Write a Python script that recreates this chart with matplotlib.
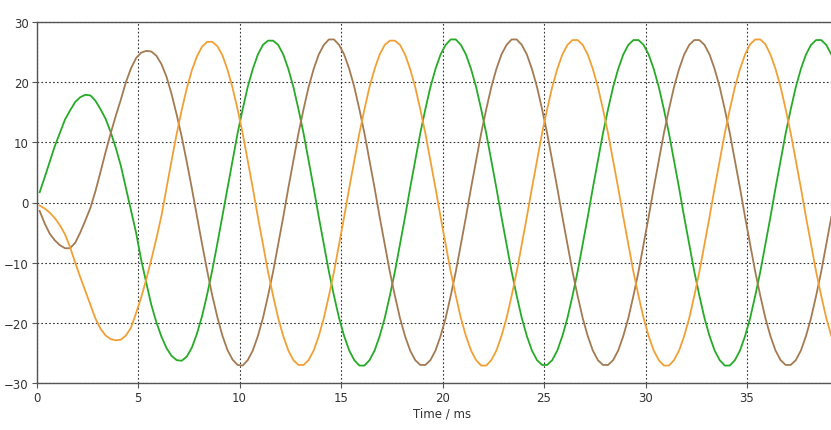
import numpy as np
import matplotlib
matplotlib.use('Agg')
import matplotlib.pyplot as plt

# sample times (ms), one reading every 0.25 ms
time_ms = 0.155 + 0.25 * np.arange(157)

# values, one per sample time
green = ([1.7, 4.2, 6.8, 9.4, 11.6, 13.8, 15.3, 16.7, 17.5, 17.9, 17.8, 16.9, 15.5,
          13.9, 11.7, 9.1, 6.1, 2.4, -1.3, -5.0, -9.5, -13.3, -17.0, -19.9, -22.3,
          -24.2, -25.5, -26.2, -26.3, -25.6, -24.1, -21.8, -18.9, -15.3, -11.3, -6.9, -2.3]
         + [2.4, 7.0, 11.5, 15.5, 19.2, 22.2, 24.6, 26.2, 26.9]
         + [26.9, 26.2, 24.6, 22.2, 19.2, 15.5, 11.5, 7.0, 2.4, -2.4, -7.0, -11.5,
            -15.5, -19.2, -22.2, -24.6, -26.2, -27.1, -27.1, -26.2, -24.6, -22.2, -19.2,
            -15.5, -11.5, -7.0, -2.4, 2.4, 7.0, 11.5, 15.5, 19.2, 22.2, 24.6, 26.2, 27.1]
         + [27.1, 26.2, 24.6, 22.2, 19.2, 15.5, 11.5, 7.0, 2.4, -2.4, -7.0, -11.5,
            -15.5, -19.2, -22.2, -24.6, -26.2, -27.0, -27.0, -26.2, -24.6, -22.2, -19.2,
            -15.5, -11.5, -7.0, -2.4, 2.4, 7.0, 11.5, 15.5, 19.2, 22.2, 24.6, 26.2, 27.0]
         + [27.0, 26.2, 24.6, 22.2, 19.2, 15.5, 11.5, 7.0, 2.4, -2.4, -7.0, -11.5,
            -15.5, -19.2, -22.2, -24.6, -26.2, -27.1, -27.1, -26.2, -24.6, -22.2, -19.2,
            -15.5, -11.5, -7.0, -2.4, 2.4, 7.0, 11.5, 15.5, 19.2, 22.2, 24.6, 26.2, 27.0]
         + [27.0, 26.2, 24.6])

brown = ([-1.4, -3.5, -5.2, -6.3, -7.1, -7.6, -7.6, -6.7, -5.0, -3.0, -0.9, 1.9, 5.1,
          8.4, 11.5, 14.4, 17.1, 20.0, 22.3, 24.0, 24.9, 25.2]
         + [25.1, 24.4, 23.0, 20.9, 18.0, 14.6, 10.9, 6.7, 2.3, -2.3, -6.9, -11.3,
            -15.4, -19.0, -22.1, -24.5, -26.1, -27.0, -27.1, -26.2, -24.6, -22.2, -19.2,
            -15.5, -11.5, -7.0, -2.4, 2.4, 7.0, 11.5, 15.5, 19.2, 22.2, 24.6, 26.2, 27.1]
         + [27.1, 26.2, 24.6, 22.2, 19.2, 15.5, 11.5, 7.0, 2.4, -2.4, -7.0, -11.5,
            -15.5, -19.2, -22.2, -24.6, -26.2, -27.0, -27.0, -26.2, -24.6, -22.2, -19.2,
            -15.5, -11.5, -7.0, -2.4, 2.4, 7.0, 11.5, 15.5, 19.2, 22.2, 24.6, 26.2, 27.1]
         + [27.1, 26.2, 24.6, 22.2, 19.2, 15.5, 11.5, 7.0, 2.4, -2.4, -7.0, -11.5,
            -15.5, -19.2, -22.2, -24.6, -26.2, -27.0, -27.0, -26.2, -24.6, -22.2, -19.2,
            -15.5, -11.5, -7.0, -2.4, 2.4, 7.0, 11.5, 15.5, 19.2, 22.2, 24.6, 26.2, 27.0]
         + [27.0, 26.2, 24.6, 22.2, 19.2, 15.5, 11.5, 7.0, 2.4, -2.4, -7.0, -11.5,
            -15.5, -19.2, -22.2, -24.6, -26.2, -27.0, -27.0, -26.2, -24.6, -22.2, -19.2,
            -15.5, -11.5, -7.0, -2.4])

orange = ([-0.5, -1.0, -1.7, -2.6, -3.8, -5.3, -7.4, -10.0, -12.4, -14.7, -17.0, -19.3,
           -21.0, -22.1, -22.7, -22.9, -22.8, -22.1, -20.8, -18.4, -15.8, -12.8, -9.5,
           -6.0, -2.2, 2.4, 7.0, 11.4, 15.4, 19.0, 22.0, 24.3, 25.9, 26.7]
          + [26.7, 26.0, 24.5, 22.1, 19.1, 15.5, 11.5, 7.0, 2.4, -2.4, -7.0, -11.5,
             -15.5, -19.2, -22.2, -24.6, -26.2, -27.0, -27.0, -26.2, -24.6, -22.2, -19.2,
             -15.5, -11.5, -7.0, -2.4, 2.4, 7.0, 11.5, 15.5, 19.2, 22.2, 24.6, 26.2, 26.9]
          + [26.9, 26.2, 24.6, 22.2, 19.2, 15.5, 11.5, 7.0, 2.4, -2.4, -7.0, -11.5,
             -15.5, -19.2, -22.2, -24.6, -26.2, -27.1, -27.1, -26.2, -24.6, -22.2, -19.2,
             -15.5, -11.5, -7.0, -2.4, 2.4, 7.0, 11.5, 15.5, 19.2, 22.2, 24.6, 26.2, 27.0]
          + [27.0, 26.2, 24.6, 22.2, 19.2, 15.5, 11.5, 7.0, 2.4, -2.4, -7.0, -11.5,
             -15.5, -19.2, -22.2, -24.6, -26.2, -27.1, -27.1, -26.2, -24.6, -22.2, -19.2,
             -15.5, -11.5, -7.0, -2.4, 2.4, 7.0, 11.5, 15.5, 19.2, 22.2, 24.6, 26.3, 27.1]
          + [27.1, 26.3, 24.6, 22.2, 19.2, 15.5, 11.5, 7.0, 2.4, -2.4, -7.0, -11.5,
             -15.5, -19.2, -22.2])

x_ticks = [0, 5, 10, 15, 20, 25, 30, 35]
y_ticks = [-30, -20, -10, 0, 10, 20, 30]

plt.rcParams['font.family'] = 'DejaVu Sans'

fig = plt.figure(figsize=(8.31, 4.31), dpi=100)
# the original is cropped on the right, so the axes run past the edge
ax = fig.add_axes([36.5 / 831, 1 - 384 / 431, 812 / 831, (384 - 23) / 431])

ax.plot(time_ms, green, color='#26ab26', lw=1.3, zorder=3)
ax.plot(time_ms, brown, color='#a47a52', lw=1.3, zorder=3)
ax.plot(time_ms, orange, color='#f2a035', lw=1.3, zorder=3)

ax.set_xlim(0, 40)
ax.set_ylim(-30, 30)
ax.set_xticks(x_ticks)
ax.set_yticks(y_ticks)

ax.grid(True, color='#333333', linestyle=(0, (1.5, 2)), linewidth=0.8)
for side in ['left', 'bottom', 'top', 'right']:
    ax.spines[side].set_color('#555555')
    ax.spines[side].set_linewidth(1.0)

ax.tick_params(direction='out', length=3.5, width=0.8, colors='#555555',
               labelcolor='#333333', labelsize=8.5, pad=2)
ax.set_xlabel('Time / ms', fontsize=8.5, color='#333333', labelpad=2)

fig.savefig('out.png', dpi=100)
